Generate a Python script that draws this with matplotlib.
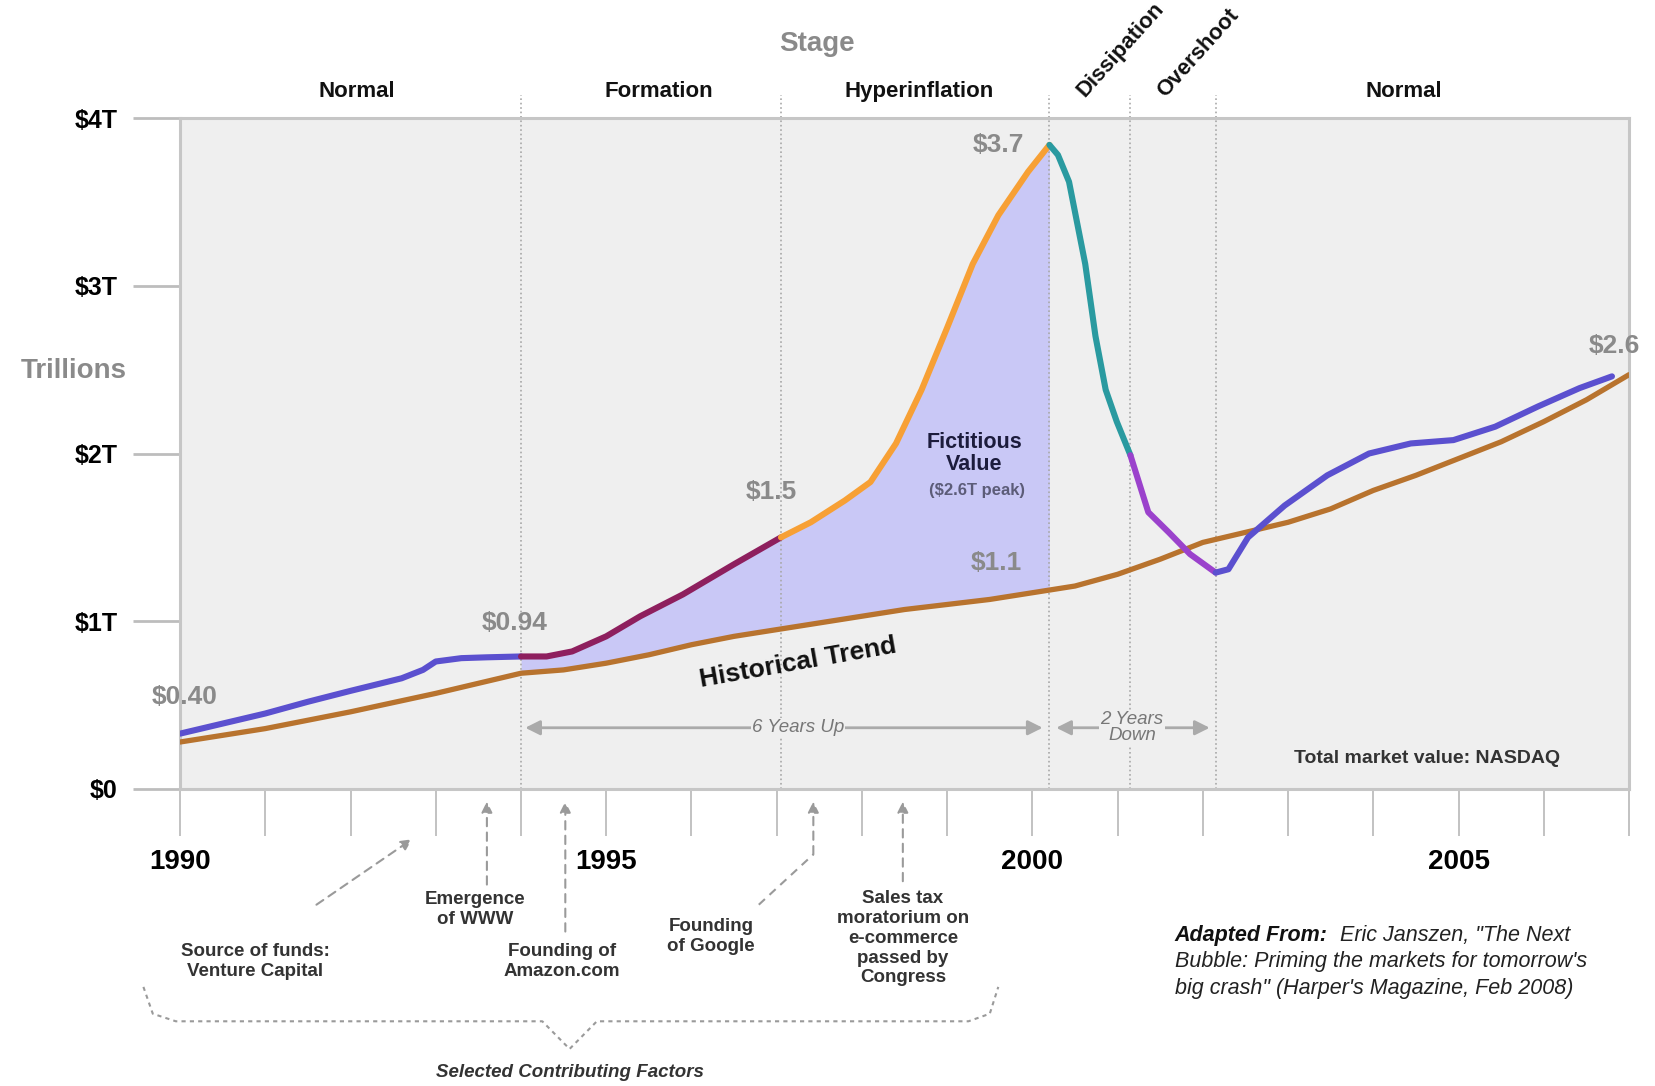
import numpy as np
import matplotlib.pyplot as plt
from matplotlib import font_manager

# NASDAQ total market value ($ trillions)
nasdaq_years = [1990.0, 1990.5, 1991.0, 1991.5, 1992.0, 1992.6, 1992.85, 1993.0, 1993.3, 1993.6,
                1994.0, 1994.3, 1994.6, 1995.0, 1995.4, 1995.9, 1996.5, 1997.05,
                1997.4, 1997.8, 1998.1, 1998.4, 1998.7, 1999.0, 1999.3, 1999.6, 1999.95, 2000.2,
                2000.3, 2000.43, 2000.62, 2000.74, 2000.86, 2000.99, 2001.15,
                2001.36, 2001.6, 2001.85, 2002.15,
                2002.3, 2002.53, 2002.96, 2003.46, 2003.95, 2004.44, 2004.94, 2005.43,
                2005.93, 2006.42, 2006.8]
nasdaq_values = [0.33, 0.39, 0.45, 0.52, 0.585, 0.66, 0.71, 0.76, 0.78, 0.785,
                 0.79, 0.79, 0.82, 0.91, 1.03, 1.16, 1.34, 1.50,
                 1.59, 1.72, 1.83, 2.06, 2.38, 2.75, 3.13, 3.42, 3.68, 3.84,
                 3.78, 3.62, 3.13, 2.70, 2.38, 2.19, 1.99,
                 1.65, 1.53, 1.40, 1.29,
                 1.31, 1.50, 1.69, 1.87, 2.00, 2.06, 2.08, 2.16,
                 2.28, 2.39, 2.46]

# historical trend line
trend_years = [1990, 1991, 1992, 1993, 1993.5, 1994, 1994.5, 1995, 1995.5, 1996, 1996.5,
               1997, 1997.5, 1998, 1998.5, 1999, 1999.5, 2000, 2000.5, 2001, 2001.5,
               2002, 2002.5, 2003, 2003.5, 2004, 2004.5, 2005, 2005.5, 2006, 2006.5, 2007]
trend_values = [0.28, 0.36, 0.46, 0.57, 0.63, 0.69, 0.71, 0.75, 0.80, 0.86, 0.91,
                0.95, 0.99, 1.03, 1.07, 1.10, 1.13, 1.17, 1.21, 1.28, 1.37,
                1.47, 1.53, 1.59, 1.67, 1.78, 1.87, 1.97, 2.07, 2.19, 2.32, 2.47]

stage_bounds = [1990, 1994, 1997.05, 2000.2, 2001.15, 2002.15, 2007]
stage_names = ["Normal", "Formation", "Hyperinflation", "Dissipation", "Overshoot", "Normal"]
stage_colors = ["#5b50cf", "#8e1f5e", "#f7a035", "#2a9aa0", "#9b42cc", "#5b50cf"]

value_labels = ["$0.40", "$0.94", "$1.5", "$3.7", "$1.1", "$2.6"]
ytick_labels = ["$0", "$1T", "$2T", "$3T", "$4T"]

factor_texts = ["Source of funds:\nVenture Capital", "Emergence\nof WWW", "Founding of\nAmazon.com",
                "Founding\nof Google", "Sales tax\nmoratorium on\ne-commerce\npassed by\nCongress"]
factor_years = [1992.72, 1993.6, 1994.52, 1997.43, 1998.48]

names = {f.name for f in font_manager.fontManager.ttflist}
FONT = "Liberation Sans" if "Liberation Sans" in names else "DejaVu Sans"
plt.rcParams["font.family"] = [FONT, "DejaVu Sans"]

GRAY_TXT = "#8a8a8a"
BG = "#efefef"

fig = plt.figure(figsize=(16.55, 10.86), dpi=100)
ax = fig.add_axes([0.1088, 0.2735, 0.8755, 0.6178])
ax.set_facecolor(BG)
ax.set_xlim(1990, 2007)
ax.set_ylim(0, 4)

yrs = np.array(nasdaq_years)
vals = np.array(nasdaq_values)

# fictitious value area
m = (yrs >= stage_bounds[1]) & (yrs <= stage_bounds[3])
ax.fill_between(yrs[m], vals[m], np.interp(yrs[m], trend_years, trend_values),
                color="#c9c8f6", lw=0, zorder=1)

ax.plot(trend_years, trend_values, color="#b8732e", lw=3.8, zorder=3,
        solid_capstyle="round", solid_joinstyle="round")
for i, c in enumerate(stage_colors):
    m = (yrs >= stage_bounds[i]) & (yrs <= stage_bounds[i + 1])
    ax.plot(yrs[m], vals[m], color=c, lw=4.4, zorder=4,
            solid_capstyle="round", solid_joinstyle="round")

# stage dividers
for b in stage_bounds[1:-1]:
    ax.plot([b, b], [0, 4.14], color="#a8a8a8", lw=1.2, ls=":", clip_on=False, zorder=2)

# stage labels
ax.text(1997.47, 4.44, "Stage", ha="center", va="center", fontsize=20, fontweight="bold", color=GRAY_TXT)
for name, x in zip(["Normal", "Formation", "Hyperinflation", "Normal"], [1992.07, 1995.62, 1998.67, 2004.36]):
    ax.text(x, 4.16, name, ha="center", va="center", fontsize=16, fontweight="bold", color="#111111")
ax.text(2000.66, 4.1, stage_names[3], rotation=48, rotation_mode="anchor", ha="left", va="bottom",
        fontsize=16, fontweight="bold", color="#111111")
ax.text(2001.6, 4.1, stage_names[4], rotation=48, rotation_mode="anchor", ha="left", va="bottom",
        fontsize=16, fontweight="bold", color="#111111")

# axes styling
for s in ax.spines.values():
    s.set_color("#c6c6c6")
    s.set_linewidth(2.2)
ax.set_yticks(range(5))
ax.set_yticklabels(ytick_labels, fontsize=18, fontweight="bold")
ax.tick_params(axis="y", length=34, width=2, color="#bdbdbd", pad=11)
ax.set_xticks(range(1990, 2008))
ax.set_xticklabels([str(y) if y % 5 == 0 else "" for y in range(1990, 2008)],
                   fontsize=20, fontweight="bold")
ax.tick_params(axis="x", length=34, width=1.3, color="#bdbdbd", pad=9)

fig.text(0.0446, 0.658, "Trillions", ha="center", va="center", fontsize=20, fontweight="bold", color=GRAY_TXT)

# value callouts
label_pos = [(1990.05, 0.55), (1993.93, 0.99), (1996.94, 1.77), (1999.6, 3.84), (1999.58, 1.35), (2006.83, 2.64)]
for t, (x, y) in zip(value_labels, label_pos):
    ax.text(x, y, t, ha="center", va="center", fontsize=19, fontweight="bold", color=GRAY_TXT, zorder=5)

ax.text(1999.32, 2.0, "Fictitious\nValue", ha="center", va="center", fontsize=15.5,
        fontweight="bold", color="#1c1c3c", linespacing=1.1, zorder=5)
ax.text(1999.35, 1.78, "($2.6T peak)", ha="center", va="center", fontsize=12,
        fontweight="bold", color="#5c5c78", zorder=5)
ax.text(1997.25, 0.75, "Historical Trend", ha="center", va="center", rotation=10,
        fontsize=19, fontweight="bold", color="#111111", zorder=5)

# duration arrows
arrow_kw = dict(arrowstyle="<|-|>", color="#aaaaaa", lw=2, mutation_scale=22, shrinkA=0, shrinkB=0)
ax.annotate("", xy=(1994.05, 0.365), xytext=(2000.12, 0.365), arrowprops=arrow_kw, zorder=2)
ax.annotate("", xy=(2000.28, 0.365), xytext=(2002.08, 0.365), arrowprops=arrow_kw, zorder=2)
ax.text(1997.25, 0.365, "6 Years Up", ha="center", va="center", fontsize=13.5, style="italic",
        color="#777777", bbox=dict(facecolor=BG, edgecolor="none", pad=1), zorder=3)
ax.text(2001.17, 0.365, "2 Years\nDown", ha="center", va="center", fontsize=13.5, style="italic",
        color="#777777", linespacing=0.9, bbox=dict(facecolor=BG, edgecolor="none", pad=1), zorder=3)

ax.text(2004.63, 0.18, "Total market value: NASDAQ", ha="center", va="center", fontsize=14,
        fontweight="bold", color="#333333")

# contributing factors below the axis
dash_kw = dict(arrowstyle="-|>", color="#9a9a9a", lw=1.5, ls=(0, (4, 3)), mutation_scale=16,
               shrinkA=0, shrinkB=0)
text_pos = [(1990.88, -1.03), (1993.46, -0.72), (1994.48, -1.03), (1996.23, -0.88), (1998.48, -0.89)]
tail_pos = [(1991.6, -0.69), (1993.6, -0.57), (1994.52, -0.85), (1997.43, -0.39), (1998.48, -0.55)]
for t, fx, (tx, ty), (ax0, ay0) in zip(factor_texts, factor_years, text_pos, tail_pos):
    ax.text(tx, ty, t, ha="center", va="center", fontsize=13.5, fontweight="bold",
            color="#333333", linespacing=1.22)
    tip_y = -0.3 if fx < 1993 else -0.075
    ax.annotate("", xy=(fx, tip_y), xytext=(ax0, ay0), arrowprops=dash_kw, annotation_clip=False)
ax.plot([1996.79, 1997.43], [-0.69, -0.39], color="#9a9a9a", lw=1.5, ls=(0, (4, 3)), clip_on=False)

brace_x = [1989.57, 1989.68, 1989.95, 1994.25, 1994.57, 1994.89, 1999.25, 1999.5, 1999.6]
brace_y = [-1.18, -1.34, -1.385, -1.385, -1.55, -1.385, -1.385, -1.34, -1.18]
ax.plot(brace_x, brace_y, color="#9a9a9a", lw=1.5, ls=(0, (2, 2)), clip_on=False)
ax.text(1994.57, -1.69, "Selected Contributing Factors", ha="center", va="center", fontsize=13.5,
        fontweight="bold", style="italic", color="#333333")

t1 = ax.text(2001.67, -0.874, "Adapted From:", ha="left", va="center", fontsize=15.5,
             fontweight="bold", style="italic", color="#111111")
ax.annotate("  Eric Janszen, \"The Next", xy=(1, 0), xycoords=t1, ha="left", va="bottom",
            fontsize=15.5, style="italic", color="#222222")
ax.text(2001.67, -1.03, "Bubble: Priming the markets for tomorrow's", ha="left", va="center",
        fontsize=15.5, style="italic", color="#222222")
ax.text(2001.67, -1.19, "big crash\" (Harper's Magazine, Feb 2008)", ha="left", va="center",
        fontsize=15.5, style="italic", color="#222222")

fig.savefig("out.png", dpi=100)
